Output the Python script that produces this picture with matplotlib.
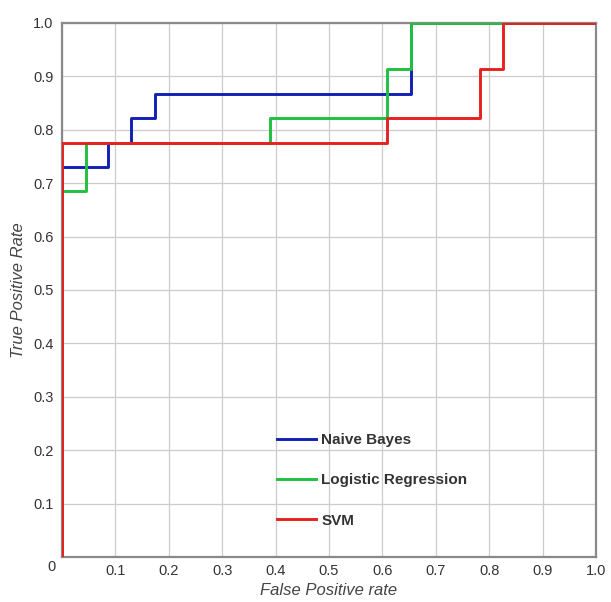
import matplotlib
matplotlib.use("Agg")
import matplotlib.pyplot as plt
import numpy as np

# ROC curve vertices
nb_fpr = [0, 0, 0.087, 0.087, 0.13, 0.13, 0.174, 0.174, 0.654, 0.654, 1.0]
nb_tpr = [0, 0.731, 0.731, 0.775, 0.775, 0.823, 0.823, 0.867, 0.867, 1.0, 1.0]

lr_fpr = [0, 0, 0.044, 0.044, 0.39, 0.39, 0.608, 0.608, 0.654, 0.654, 1.0]
lr_tpr = [0, 0.685, 0.685, 0.775, 0.775, 0.823, 0.823, 0.913, 0.913, 1.0, 1.0]

svm_fpr = [0, 0, 0.608, 0.608, 0.783, 0.783, 0.826, 0.826, 1.0]
svm_tpr = [0, 0.775, 0.775, 0.823, 0.823, 0.913, 0.913, 1.0, 1.0]

ticks = np.round(np.arange(0, 1.01, 0.1), 1)
xlabels = [""] + ["%.1f" % t for t in ticks[1:]]
ylabels = [""] + ["%.1f" % t for t in ticks[1:]]

plt.rcParams['font.family'] = ['Liberation Sans', 'DejaVu Sans']

fig = plt.figure(figsize=(6.11, 6.02), dpi=100)
ax = fig.add_axes([0.1015, 0.0748, 0.874, 0.887])

ax.plot(nb_fpr, nb_tpr, color="#1020b4", lw=2.1, label="Naive Bayes", zorder=3)
ax.plot(lr_fpr, lr_tpr, color="#20c040", lw=2.1, label="Logistic Regression", zorder=4)
ax.plot(svm_fpr, svm_tpr, color="#e82020", lw=2.1, label="SVM", zorder=5)

ax.set_xlim(0, 1)
ax.set_ylim(0, 1)
ax.set_xticks(ticks)
ax.set_yticks(ticks)
ax.set_xticklabels(xlabels)
ax.set_yticklabels(ylabels)
ax.tick_params(length=0, labelsize=10.5, labelcolor="#333333")
ax.tick_params(axis="x", pad=5)
ax.tick_params(axis="y", pad=6)
ax.text(-0.012, -0.006, "0", transform=ax.transAxes, ha="right", va="top",
        fontsize=10.5, color="#333333")

ax.grid(True, color="#cccccc", lw=0.9)
ax.set_axisbelow(True)
for s in ax.spines.values():
    s.set_color("#8a8a8a")
    s.set_linewidth(1.6)

ax.set_xlabel("False Positive rate", fontsize=12, style="italic", color="#444444", labelpad=4)
ax.set_ylabel("True Positive Rate", fontsize=12, style="italic", color="#444444", labelpad=5)

leg = ax.legend(loc="upper left", bbox_to_anchor=(0.376, 0.258), frameon=False,
                handlelength=2.6, handletextpad=0.33, labelspacing=1.72,
                prop={"weight": "bold", "size": 11})
for t in leg.get_texts():
    t.set_color("#333333")

fig.savefig("out.png", dpi=100)
